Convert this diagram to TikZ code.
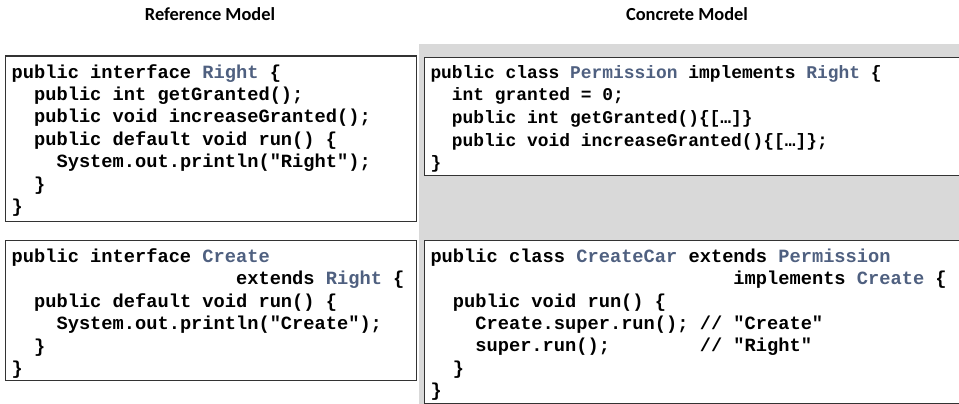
\documentclass[tikz,border=0pt]{standalone}
\usepackage{fontspec}
\usetikzlibrary{positioning}
\newfontfamily\codefont{Liberation Mono}
\newfontfamily\headfont{Carlito}
\definecolor{identblue}{RGB}{79,96,128}
\definecolor{panelgray}{RGB}{217,217,217}
\newcommand{\ident}[1]{\textcolor{identblue}{#1}}

\tikzset{
  codebox/.style={draw=black!80, line width=1.2pt, fill=white, anchor=north west, inner sep=0pt},
  codetext/.style={inner sep=0pt, align=left, font={\codefont\bfseries\fontsize{18.7}{22.4}\selectfont\frenchspacing}},
  codesmall/.style={codetext, font={\codefont\bfseries\fontsize{17.9}{22.6}\selectfont\frenchspacing}},
  headlabel/.style={inner sep=0pt, anchor=base, font={\headfont\bfseries\fontsize{18.4}{20}\selectfont}}
}

\begin{document}
\begin{tikzpicture}[x=1pt, y=-1pt]
  \useasboundingbox (0,0) rectangle (959,404);
  \clip (0,0) rectangle (959,404);
  % headings
  \node[headlabel] (refhead) at (210,20.7) {Reference Model};
  \node[headlabel] (conhead) at (687,20.7) {Concrete Model};
  % grey panel behind the concrete model
  \fill[panelgray] (419,44) rectangle (959,404);
  % boxes
  \node[codebox, minimum width=410.5pt, minimum height=165.5pt] (rightbox) at (5,55.5) {};
  \node[codebox, minimum width=410.5pt, minimum height=140pt] (createbox) at (5,240) {};
  \node[codebox, minimum width=545pt, minimum height=118.5pt] (permbox) at (424,56.7) {};
  \node[codebox, minimum width=545pt, minimum height=163pt] (carbox) at (424,240) {};
  % reference model code
  \node[codetext, below right=8.5pt and 6.5pt of rightbox.north west] (rightcode) {%
    public interface \ident{Right} \{\\
    ~~public int getGranted();\\
    ~~public void increaseGranted();\\
    ~~public default void run() \{\\
    ~~~~System.out.println("Right");\\
    ~~\}\\
    \}};
  \node[codetext, below right=8.5pt and 6.5pt of createbox.north west] (createcode) {%
    public interface \ident{Create}\\
    ~~~~~~~~~~~~~~~~~~~~extends \ident{Right} \{\\
    ~~public default void run() \{\\
    ~~~~System.out.println("Create");\\
    ~~\}\\
    \}};
  % concrete model code
  \node[codesmall, below right=8.5pt and 6.3pt of permbox.north west] (permcode) {%
    public class \ident{Permission} implements \ident{Right} \{\\
    ~~int granted = 0;\\
    ~~public int getGranted()\{[…]\}\\
    ~~public void increaseGranted()\{[…]\};\\
    \}};
  \node[codetext, below right=8.5pt and 6.3pt of carbox.north west] (carcode) {%
    public class \ident{CreateCar} extends \ident{Permission}\\
    ~~~~~~~~~~~~~~~~~~~~~~~~~~~implements \ident{Create} \{\\
    ~~public void run() \{\\
    ~~~~Create.super.run(); // "Create"\\
    ~~~~super.run();~~~~~~~~// "Right"\\
    ~~\}\\
    \}};
\end{tikzpicture}
\end{document}
